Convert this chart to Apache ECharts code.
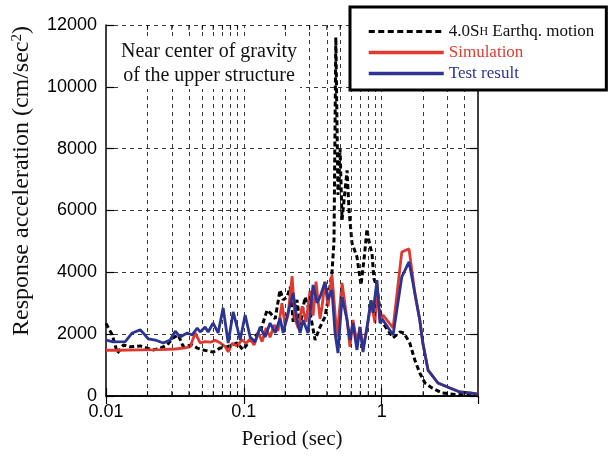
<!DOCTYPE html>
<html><head><meta charset="utf-8">
<script src="https://cdn.jsdelivr.net/npm/echarts@6/dist/echarts.min.js"></script>
<style>html,body{margin:0;padding:0;background:#fff}#c{width:610px;height:457px}</style>
</head><body><div id="c"></div>
<script>
// ---- data ----
const xMajorTicks = [0.01, 0.1, 1];
const xMinorTicks = [0.02,0.03,0.04,0.05,0.06,0.07,0.08,0.09,0.2,0.3,0.4,0.5,0.6,0.7,0.8,0.9,2,3,4];
const yTickValues = [0, 2000, 4000, 6000, 8000, 10000, 12000];

const earthquake = [
 [0.01,2350],[0.0111,1975],[0.0121,1390],[0.0134,1650],[0.015,1590],[0.0177,1620],[0.0199,1550],
 [0.022,1490],[0.0248,1550],[0.0278,1650],[0.0307,1880],[0.0334,1975],[0.0363,1600],[0.0422,1650],
 [0.0459,1550],[0.0507,1490],[0.0599,1420],[0.0673,1550],[0.0757,1590],[0.0894,1715],[0.0988,1490],
 [0.1111,1810],[0.1313,2070],[0.1475,2780],[0.155,2690],[0.169,2500],[0.183,3430],[0.193,3110],
 [0.206,3200],[0.217,3530],[0.228,2400],[0.243,3110],[0.256,2300],[0.278,3200],[0.302,2700],
 [0.329,1810],[0.357,2230],[0.388,2560],[0.408,3110],[0.436,3980],[0.451,5000],[0.465,11600],
 [0.482,6500],[0.499,8000],[0.516,5700],[0.561,7300],[0.58,6000],[0.609,4950],[0.662,4500],
 [0.708,3590],[0.744,4400],[0.783,5400],[0.809,5000],[0.851,4600],[0.879,3800],[0.925,3500],
 [0.972,2780],[1.022,2360],[1.21,1880],[1.36,2070],[1.45,2040],[1.60,1710],[1.74,1165],
 [1.89,745],[2.06,420],[2.32,260],[2.74,100],[3.40,50],[5.0,40]
];
const simulation = [
 [0.01,1480],[0.0121,1480],[0.0177,1490],[0.0248,1500],[0.0318,1520],[0.0376,1560],[0.0408,1600],
 [0.0444,2040],[0.0482,1720],[0.0524,1760],[0.057,1740],[0.0619,1800],[0.0673,1720],[0.0732,1600],
 [0.077,1430],[0.0823,1700],[0.0894,1620],[0.0972,1820],[0.1039,1700],[0.1111,1850],[0.1187,1650],
 [0.1269,2050],[0.1357,1760],[0.1451,2200],[0.155,1900],[0.166,2300],[0.177,2100],[0.189,3000],
 [0.199,2300],[0.209,2600],[0.224,3880],[0.235,2500],[0.248,2200],[0.265,2900],[0.283,2400],
 [0.302,3400],[0.318,2600],[0.334,3700],[0.357,2500],[0.369,2880],[0.388,3690],[0.408,2900],
 [0.436,3910],[0.474,1900],[0.516,3660],[0.561,2460],[0.589,1590],[0.619,2460],[0.662,1710],
 [0.696,2230],[0.732,1550],[0.796,2360],[0.837,3100],[0.894,2360],[0.925,3500],[0.972,2460],
 [1.022,2620],[1.21,2200],[1.40,4660],[1.58,4760],[1.74,3330],[1.89,2460],[1.99,1710],
 [2.17,840],[2.56,420],[3.13,260],[3.69,130],[4.36,100],[5.0,60]
];
const testResult = [
 [0.01,1810],[0.0113,1750],[0.0138,1760],[0.0155,2040],[0.0177,2140],[0.0186,2040],[0.0203,1845],
 [0.0228,1810],[0.026,1715],[0.0292,1810],[0.0318,2100],[0.0345,1910],[0.0388,2040],[0.0422,1975],
 [0.0459,2200],[0.0482,2070],[0.0524,2230],[0.0551,2070],[0.0599,2360],[0.0651,2040],[0.0708,2850],
 [0.077,1715],[0.0837,2720],[0.0894,2230],[0.094,1810],[0.1022,2620],[0.1111,1910],[0.1207,1750],
 [0.1313,2230],[0.1427,1910],[0.155,2360],[0.169,2040],[0.183,2520],[0.193,2040],[0.209,2690],
 [0.228,3330],[0.243,2460],[0.256,2040],[0.269,2460],[0.292,2040],[0.318,3590],[0.340,3010],
 [0.357,3200],[0.388,3690],[0.408,3110],[0.436,3430],[0.459,2040],[0.482,1390],[0.516,3200],
 [0.561,2460],[0.589,1810],[0.619,2360],[0.662,1490],[0.696,2230],[0.732,1420],[0.783,2230],
 [0.837,3100],[0.865,2690],[0.925,3750],[0.972,2360],[1.022,2460],[1.21,1975],[1.40,3850],
 [1.58,4340],[1.74,3330],[1.89,2460],[1.99,1710],[2.17,840],[2.56,420],[3.13,260],[3.69,130],
 [4.36,100],[5.0,60]
];

const nameEq = '4.0SH Earthq. motion';
const nameSim = 'Simulation';
const nameTest = 'Test result';
const RED = '#e03a30';
const BLUE = '#2c3491';

const chart = echarts.init(document.getElementById('c'), null, {renderer: 'canvas'});
const serif = '"Liberation Serif", "Times New Roman", serif';
const sans = '"Liberation Sans", Arial, sans-serif';

const minorBottom = xMinorTicks.map(v => [v, 0]);
const minorTop = xMinorTicks.map(v => [v, 12000]);

const option = {
  animation: false,
  backgroundColor: '#fff',
  grid: {left: 106, right: 132, top: 25, bottom: 61},
  xAxis: [{
    type: 'log', logBase: 10, min: 0.01, max: 5, splitNumber: 3,
    name: 'Period (sec)', nameLocation: 'middle', nameGap: 33,
    nameTextStyle: {fontFamily: serif, fontSize: 21, color: '#111'},
    axisLine: {show: true, lineStyle: {color: '#000', width: 1.5}},
    axisTick: {show: true, inside: true, length: 8, lineStyle: {color: '#000', width: 1.2}},
    axisLabel: {fontFamily: sans, fontSize: 18, color: '#000', margin: 7, showMaxLabel: false,
      formatter: v => String(parseFloat(Number(v).toPrecision(6)))},
    splitLine: {show: false}
  }, {
    type: 'log', logBase: 10, min: 0.01, max: 5, splitNumber: 3, position: 'top',
    axisLine: {show: true, lineStyle: {color: '#000', width: 1.5}},
    axisTick: {show: true, inside: true, length: 8, lineStyle: {color: '#000', width: 1.2}},
    axisLabel: {show: false}, splitLine: {show: false}
  }],
  yAxis: [{
    type: 'value', min: 0, max: 12000, interval: 2000,
    axisLine: {show: true, lineStyle: {color: '#000', width: 1.5}},
    axisTick: {show: true, inside: true, length: 8, lineStyle: {color: '#000', width: 1.2}},
    axisLabel: {fontFamily: sans, fontSize: 18, color: '#000', margin: 9, formatter: v => String(v)},
    splitLine: {show: true, lineStyle: {color: '#222', width: 0.9, type: [4, 4]}}
  }, {
    type: 'value', min: 0, max: 12000, interval: 2000, position: 'right',
    axisLine: {show: true, lineStyle: {color: '#000', width: 1.5}},
    axisTick: {show: true, inside: true, length: 8, lineStyle: {color: '#000', width: 1.2}},
    axisLabel: {show: false}, splitLine: {show: false}
  }],
  legend: {
    orient: 'vertical', left: 350, top: 7,
    padding: [16, 12, 8, 17],
    backgroundColor: '#fff', borderColor: '#000', borderWidth: 3,
    itemWidth: 75, itemHeight: 14, itemGap: 4, selectedMode: false, z: 20,
    itemStyle: {opacity: 0},
    textStyle: {fontFamily: serif, fontSize: 17},
    formatter: function (name) {
      if (name === nameEq) return '{n|4.0S}{s|H}{n| Earthq. motion}';
      return name;
    },
    data: [
      {name: nameEq, itemStyle: {opacity: 0}, textStyle: {color: '#000', rich: {n: {fontFamily: serif, fontSize: 17, color: '#111'}, s: {fontFamily: serif, fontSize: 12, color: '#111'}}},
        lineStyle: {color: '#000', width: 3, type: [6, 3.5]}},
      {name: nameSim, itemStyle: {opacity: 0}, textStyle: {color: RED}, lineStyle: {color: RED, width: 3.5}},
      {name: nameTest, itemStyle: {opacity: 0}, textStyle: {color: BLUE}, lineStyle: {color: BLUE, width: 3.5}}
    ]
  },
  graphic: [
    {type: 'text', x: 209, y: 39, z: 30,
      style: {text: 'Near center of gravity\nof the upper structure', align: 'center', verticalAlign: 'top',
        font: '20px ' + serif, lineHeight: 24, fill: '#111', backgroundColor: '#fff', padding: [1, 3]}},
    {type: 'text', x: 22, y: 181, rotation: Math.PI / 2, z: 30,
      style: {text: '{a|Response acceleration (cm/sec}{s|2}{a|)}', align: 'center', verticalAlign: 'middle',
        rich: {a: {fontFamily: serif, fontSize: 24, fill: '#111', color: '#111'},
               s: {fontFamily: serif, fontSize: 15, fill: '#111', color: '#111', verticalAlign: 'top'}}}}
  ],
  series: [
    {name: 'gridX', type: 'line', data: [], silent: true, xAxisIndex: 0, yAxisIndex: 0,
      markLine: {silent: true, symbol: 'none', label: {show: false}, animation: false,
        lineStyle: {color: '#222', width: 0.9, type: [4, 4]},
        data: xMinorTicks.concat([0.1, 1]).map(v => ({xAxis: v}))}},
    {name: 'tickBottom', type: 'scatter', data: minorBottom, silent: true, symbol: 'rect',
      symbolSize: [1.2, 5], symbolOffset: [0, -2.5], itemStyle: {color: '#000'}, z: 5, clip: false},
    {name: 'tickTop', type: 'scatter', data: minorTop, silent: true, symbol: 'rect',
      symbolSize: [1.2, 5], symbolOffset: [0, 2.5], itemStyle: {color: '#000'}, z: 5, clip: false},
    {name: nameEq, type: 'line', data: earthquake, symbol: 'none', z: 3,
      lineStyle: {color: '#000', width: 3, type: [5, 3]}, itemStyle: {color: '#000'}},
    {name: nameSim, type: 'line', data: simulation, symbol: 'none', z: 4,
      lineStyle: {color: RED, width: 2.8}, itemStyle: {color: RED}},
    {name: nameTest, type: 'line', data: testResult, symbol: 'none', z: 5,
      lineStyle: {color: BLUE, width: 2.8}, itemStyle: {color: BLUE}}
  ]
};
chart.setOption(option);
</script>
</body></html>
